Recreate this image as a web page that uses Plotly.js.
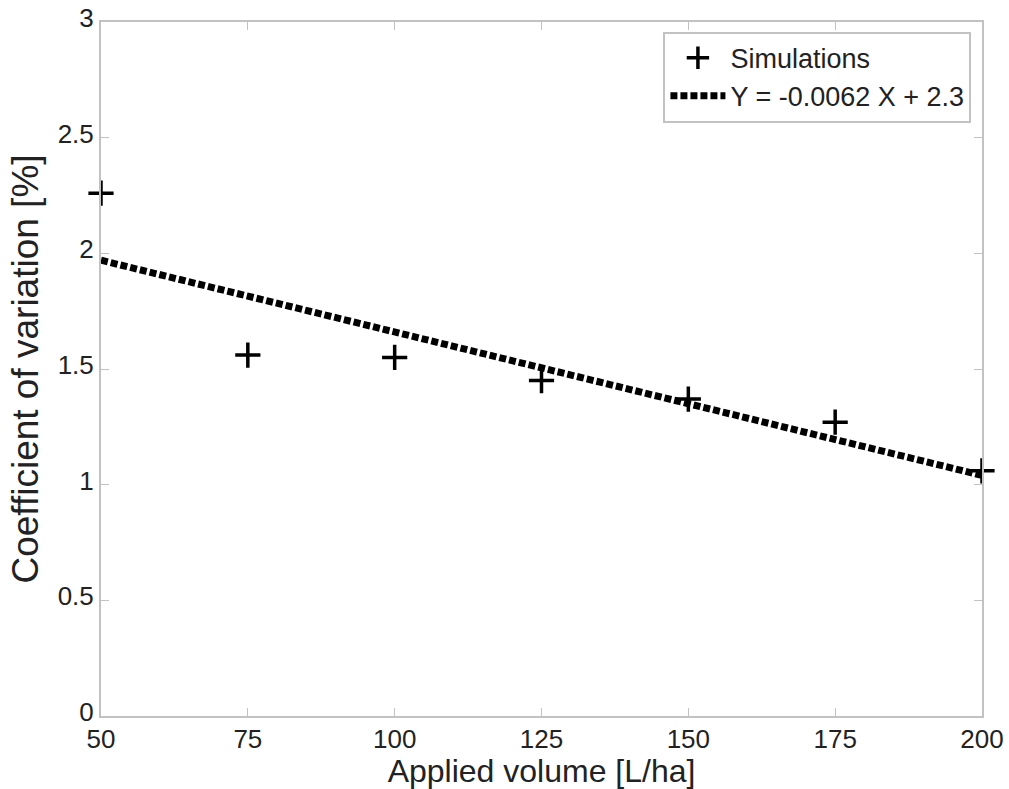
<!DOCTYPE html>
<html>
<head>
<meta charset="utf-8">
<script src="https://cdn.plot.ly/plotly-3.0.1.min.js"></script>
<style>html,body{margin:0;padding:0;background:#fff;}#chart{width:1009px;height:789px;}</style>
</head>
<body>
<div id="chart"></div>
<script>
const volumes = [50, 75, 100, 125, 150, 175, 200];
const cvValues = [2.26, 1.56, 1.55, 1.45, 1.37, 1.27, 1.06];
const fitX = [50, 200];
const fitY = [1.97, 1.04];
const xTicks = [50, 75, 100, 125, 150, 175, 200];
const yTicks = [0, 0.5, 1, 1.5, 2, 2.5, 3];
const fitLabel = 'Y = -0.0062 X + 2.3';

const font = {family: 'Liberation Sans, Arial, sans-serif', color: '#222'};

const traces = [
  {
    x: volumes, y: cvValues, type: 'scatter', mode: 'markers', name: 'Simulations',
    marker: {symbol: 'cross-thin', size: 18, color: '#000', line: {color: '#000', width: 3.5}},
    cliponaxis: false
  },
  {
    x: fitX, y: fitY, type: 'scatter', mode: 'lines', name: fitLabel,
    line: {color: '#000', width: 7, dash: '7px,3px'}
  }
];

const axisCommon = {
  showline: true, linecolor: '#c2c2c2', linewidth: 2, mirror: 'ticks',
  ticks: 'inside', ticklen: 8, tickcolor: '#c2c2c2', tickwidth: 1,
  showgrid: false, zeroline: false,
  tickfont: Object.assign({size: 26}, font)
};

const layout = {
  width: 1009, height: 789,
  margin: {l: 101, r: 27, t: 22, b: 73},
  paper_bgcolor: '#fff', plot_bgcolor: '#fff',
  showlegend: true,
  font: font,
  xaxis: Object.assign({}, axisCommon, {
    range: [50, 200], tickvals: xTicks, ticktext: xTicks.map(String),
    ticklabelstandoff: -1,
    title: {text: 'Applied volume [L/ha]', font: Object.assign({size: 32}, font), standoff: 1}
  }),
  yaxis: Object.assign({}, axisCommon, {
    range: [0, 3], tickvals: yTicks, ticktext: yTicks.map(String),
    ticklabelshift: -4,
    title: {text: 'Coefficient of variation [%]', font: Object.assign({size: 37}, font), standoff: 8}
  }),
  legend: {
    x: 0.988, y: 0.986, xanchor: 'right', yanchor: 'top',
    bgcolor: '#fff', bordercolor: '#c2c2c2', borderwidth: 2,
    font: Object.assign({size: 27}, font),
    tracegroupgap: 0, itemwidth: 55
  }
};

Plotly.newPlot('chart', traces, layout, {staticPlot: true});
</script>
</body>
</html>
